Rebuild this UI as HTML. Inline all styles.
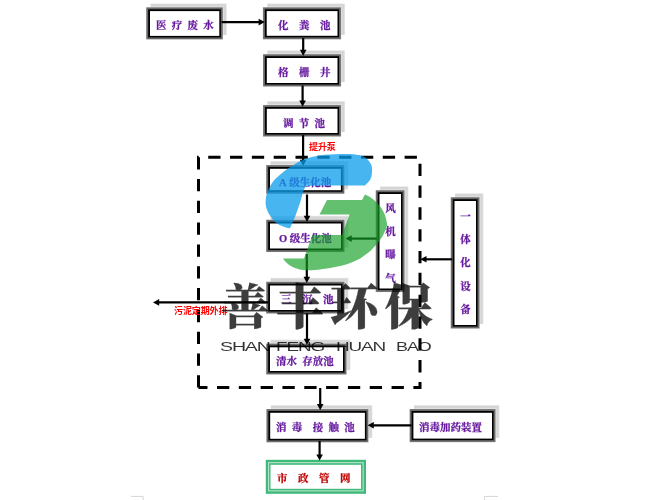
<!DOCTYPE html>
<html lang="zh-CN"><head><meta charset="utf-8"><title>医疗废水处理工艺流程图</title>
<style>
html,body{margin:0;padding:0;background:#fff}
body{width:650px;height:500px;position:relative;overflow:hidden}
svg{position:absolute;left:0;top:0}
.t{position:absolute;white-space:pre;font-family:"Liberation Serif","Noto Serif CJK SC",serif;font-weight:700;-webkit-text-stroke:.25px #66199f;font-size:10.5px;line-height:12px;color:#66199f;margin:0;will-change:transform}
.r{position:absolute;white-space:pre;font-family:"Liberation Sans","Noto Sans CJK SC",sans-serif;font-weight:700;font-size:9px;line-height:10px;color:#f00;letter-spacing:-0.1px;will-change:transform}
.v{position:absolute;font-family:"Liberation Serif","Noto Serif CJK SC",serif;font-weight:700;-webkit-text-stroke:.25px #66199f;font-size:10.5px;line-height:23.2px;color:#66199f;width:11px;text-align:center;will-change:transform}
.wm{position:absolute;white-space:pre;font-family:"Liberation Serif","Noto Serif CJK SC",serif;font-weight:900;-webkit-text-stroke:.3px #000;color:#000;opacity:.76;transform-origin:0 0}
.we{position:absolute;white-space:pre;font-family:"Liberation Sans","Noto Sans CJK SC",sans-serif;font-weight:400;color:#000;opacity:.8;transform-origin:0 0}
</style></head><body>
<svg width="650" height="500" viewBox="0 0 650 500">
<path d="M131 496.4H143.1V500" fill="none" stroke="#d6d6d6" stroke-width="1"/>
<path d="M484.4 500V496.4H498" fill="none" stroke="#d6d6d6" stroke-width="1"/>
<rect x="150.70" y="3.40" width="76.05" height="31.55" fill="#e6e6e6"/>
<rect x="150.70" y="4.10" width="75.35" height="30.85" fill="#d5d5d5"/>
<rect x="150.70" y="6.40" width="73.05" height="28.55" fill="#e2e2e2"/>
<rect x="267.40" y="3.40" width="77.55" height="31.45" fill="#e6e6e6"/>
<rect x="267.40" y="4.10" width="76.85" height="30.75" fill="#d5d5d5"/>
<rect x="267.40" y="6.40" width="74.55" height="28.45" fill="#e2e2e2"/>
<rect x="267.50" y="50.30" width="77.45" height="31.75" fill="#e6e6e6"/>
<rect x="267.50" y="51.00" width="76.75" height="31.05" fill="#d5d5d5"/>
<rect x="267.50" y="53.30" width="74.45" height="28.75" fill="#e2e2e2"/>
<rect x="267.50" y="101.10" width="77.45" height="30.95" fill="#e6e6e6"/>
<rect x="267.50" y="101.80" width="76.75" height="30.25" fill="#d5d5d5"/>
<rect x="267.50" y="104.10" width="74.45" height="27.95" fill="#e2e2e2"/>
<rect x="270.70" y="161.10" width="77.65" height="28.15" fill="#e6e6e6"/>
<rect x="270.70" y="161.80" width="76.95" height="27.45" fill="#d5d5d5"/>
<rect x="270.70" y="164.10" width="74.65" height="25.15" fill="#e2e2e2"/>
<rect x="270.70" y="215.80" width="77.75" height="31.75" fill="#e6e6e6"/>
<rect x="270.70" y="216.50" width="77.05" height="31.05" fill="#d5d5d5"/>
<rect x="270.70" y="218.80" width="74.75" height="28.75" fill="#e2e2e2"/>
<rect x="380.20" y="186.30" width="28.25" height="101.25" fill="#e6e6e6"/>
<rect x="380.20" y="187.00" width="27.55" height="100.55" fill="#d5d5d5"/>
<rect x="380.20" y="189.30" width="25.25" height="98.25" fill="#e2e2e2"/>
<rect x="455.20" y="193.30" width="28.25" height="130.75" fill="#e6e6e6"/>
<rect x="455.20" y="194.00" width="27.55" height="130.05" fill="#d5d5d5"/>
<rect x="455.20" y="196.30" width="25.25" height="127.75" fill="#e2e2e2"/>
<rect x="270.70" y="277.80" width="77.75" height="31.25" fill="#e6e6e6"/>
<rect x="270.70" y="278.50" width="77.05" height="30.55" fill="#d5d5d5"/>
<rect x="270.70" y="280.80" width="74.75" height="28.25" fill="#e2e2e2"/>
<rect x="270.70" y="339.60" width="79.75" height="30.45" fill="#e6e6e6"/>
<rect x="270.70" y="340.30" width="79.05" height="29.75" fill="#d5d5d5"/>
<rect x="270.70" y="342.60" width="76.75" height="27.45" fill="#e2e2e2"/>
<rect x="270.90" y="405.10" width="101.45" height="32.75" fill="#e6e6e6"/>
<rect x="270.90" y="405.80" width="100.75" height="32.05" fill="#d5d5d5"/>
<rect x="270.90" y="408.10" width="98.45" height="29.75" fill="#e2e2e2"/>
<rect x="414.10" y="405.10" width="85.35" height="32.55" fill="#e6e6e6"/>
<rect x="414.10" y="405.80" width="84.65" height="31.85" fill="#d5d5d5"/>
<rect x="414.10" y="408.10" width="82.35" height="29.55" fill="#e2e2e2"/>
<path d="M198.5 387.6V157.3H420V387.6H198.5" fill="none" stroke="#000" stroke-width="3" stroke-dasharray="12.3 9.52"/>
<rect x="146.20" y="7.30" width="76.65" height="32.15" fill="#8c8c8c"/>
<rect x="146.70" y="7.80" width="75.65" height="31.15" fill="#686868"/>
<rect x="148.20" y="9.30" width="72.65" height="28.15" fill="#000"/>
<rect x="150.00" y="11.10" width="69.30" height="24.80" fill="#fff"/>
<rect x="262.90" y="7.30" width="78.15" height="32.05" fill="#8c8c8c"/>
<rect x="263.40" y="7.80" width="77.15" height="31.05" fill="#686868"/>
<rect x="264.90" y="9.30" width="74.15" height="28.05" fill="#000"/>
<rect x="266.70" y="11.10" width="70.80" height="24.70" fill="#fff"/>
<rect x="263.00" y="54.20" width="78.05" height="32.35" fill="#8c8c8c"/>
<rect x="263.50" y="54.70" width="77.05" height="31.35" fill="#686868"/>
<rect x="265.00" y="56.20" width="74.05" height="28.35" fill="#000"/>
<rect x="266.80" y="58.00" width="70.70" height="25.00" fill="#fff"/>
<rect x="263.00" y="105.00" width="78.05" height="31.55" fill="#8c8c8c"/>
<rect x="263.50" y="105.50" width="77.05" height="30.55" fill="#686868"/>
<rect x="265.00" y="107.00" width="74.05" height="27.55" fill="#000"/>
<rect x="266.80" y="108.80" width="70.70" height="24.20" fill="#fff"/>
<rect x="266.20" y="165.00" width="78.25" height="28.75" fill="#8c8c8c"/>
<rect x="266.70" y="165.50" width="77.25" height="27.75" fill="#686868"/>
<rect x="268.20" y="167.00" width="74.25" height="24.75" fill="#000"/>
<rect x="270.00" y="168.80" width="70.90" height="21.40" fill="#fff"/>
<rect x="266.20" y="219.70" width="78.35" height="32.35" fill="#8c8c8c"/>
<rect x="266.70" y="220.20" width="77.35" height="31.35" fill="#686868"/>
<rect x="268.20" y="221.70" width="74.35" height="28.35" fill="#000"/>
<rect x="270.00" y="223.50" width="71.00" height="25.00" fill="#fff"/>
<rect x="375.70" y="190.20" width="28.85" height="101.85" fill="#8c8c8c"/>
<rect x="376.20" y="190.70" width="27.85" height="100.85" fill="#686868"/>
<rect x="377.70" y="192.20" width="24.85" height="97.85" fill="#000"/>
<rect x="379.50" y="194.00" width="21.50" height="94.50" fill="#fff"/>
<rect x="450.70" y="197.20" width="28.85" height="131.35" fill="#8c8c8c"/>
<rect x="451.20" y="197.70" width="27.85" height="130.35" fill="#686868"/>
<rect x="452.70" y="199.20" width="24.85" height="127.35" fill="#000"/>
<rect x="454.50" y="201.00" width="21.50" height="124.00" fill="#fff"/>
<rect x="266.20" y="281.70" width="78.35" height="31.85" fill="#8c8c8c"/>
<rect x="266.70" y="282.20" width="77.35" height="30.85" fill="#686868"/>
<rect x="268.20" y="283.70" width="74.35" height="27.85" fill="#000"/>
<rect x="270.00" y="285.50" width="71.00" height="24.50" fill="#fff"/>
<rect x="266.20" y="343.50" width="80.35" height="31.05" fill="#8c8c8c"/>
<rect x="266.70" y="344.00" width="79.35" height="30.05" fill="#686868"/>
<rect x="268.20" y="345.50" width="76.35" height="27.05" fill="#000"/>
<rect x="270.00" y="347.30" width="73.00" height="23.70" fill="#fff"/>
<rect x="266.40" y="409.00" width="102.05" height="33.35" fill="#8c8c8c"/>
<rect x="266.90" y="409.50" width="101.05" height="32.35" fill="#686868"/>
<rect x="268.40" y="411.00" width="98.05" height="29.35" fill="#000"/>
<rect x="270.20" y="412.80" width="94.70" height="26.00" fill="#fff"/>
<rect x="409.60" y="409.00" width="85.95" height="33.15" fill="#8c8c8c"/>
<rect x="410.10" y="409.50" width="84.95" height="32.15" fill="#686868"/>
<rect x="411.60" y="411.00" width="81.95" height="29.15" fill="#000"/>
<rect x="413.40" y="412.80" width="78.60" height="25.80" fill="#fff"/>
<rect x="265.80" y="459.80" width="100.20" height="34.00" fill="#3fb97a"/>
<rect x="268.00" y="462.10" width="95.70" height="29.30" fill="#b5e5cb"/>
<rect x="269.10" y="463.20" width="93.50" height="27.10" fill="#3fb97a"/>
<rect x="270.50" y="464.80" width="90.50" height="24.00" fill="#fff"/>
<path d="M221.50 22.10L259.60 22.10" stroke="#000" stroke-width="2.2" fill="none"/>
<path d="M264.80 22.10L258.60 25.40L258.60 18.80Z" fill="#000"/>
<path d="M303.20 38.00L303.20 50.80" stroke="#000" stroke-width="2.2" fill="none"/>
<path d="M303.20 56.00L299.90 49.80L306.50 49.80Z" fill="#000"/>
<path d="M302.60 85.50L302.60 101.60" stroke="#000" stroke-width="2.2" fill="none"/>
<path d="M302.60 106.80L299.30 100.60L305.90 100.60Z" fill="#000"/>
<path d="M303.10 135.00L303.10 160.80" stroke="#000" stroke-width="2.2" fill="none"/>
<path d="M303.10 166.00L299.80 159.80L306.40 159.80Z" fill="#000"/>
<path d="M307.00 194.50L307.00 216.80" stroke="#000" stroke-width="2.2" fill="none"/>
<path d="M307.00 222.00L303.70 215.80L310.30 215.80Z" fill="#000"/>
<path d="M306.80 254.00L306.80 277.80" stroke="#000" stroke-width="2.2" fill="none"/>
<path d="M306.80 283.00L303.50 276.80L310.10 276.80Z" fill="#000"/>
<path d="M307.00 313.50L307.00 339.80" stroke="#000" stroke-width="2.2" fill="none"/>
<path d="M307.00 345.00L303.70 338.80L310.30 338.80Z" fill="#000"/>
<path d="M320.20 388.00L320.20 405.10" stroke="#000" stroke-width="2.2" fill="none"/>
<path d="M320.20 410.30L316.90 404.10L323.50 404.10Z" fill="#000"/>
<path d="M319.60 441.00L319.60 455.40" stroke="#000" stroke-width="2.2" fill="none"/>
<path d="M319.60 460.60L316.30 454.40L322.90 454.40Z" fill="#000"/>
<path d="M377.00 238.60L350.70 238.60" stroke="#000" stroke-width="2.2" fill="none"/>
<path d="M345.50 238.60L351.70 235.30L351.70 241.90Z" fill="#000"/>
<path d="M452.00 259.30L425.50 259.30" stroke="#000" stroke-width="2.2" fill="none"/>
<path d="M420.30 259.30L426.50 256.00L426.50 262.60Z" fill="#000"/>
<path d="M411.50 425.30L372.80 425.30" stroke="#000" stroke-width="2.2" fill="none"/>
<path d="M367.60 425.30L373.80 422.00L373.80 428.60Z" fill="#000"/>
<path d="M268.00 302.40L158.20 302.40" stroke="#000" stroke-width="2.2" fill="none"/>
<path d="M153.00 302.40L159.20 299.10L159.20 305.70Z" fill="#000"/>
</svg>
<div class="t" style="left:156.0px;top:19.9px;">医 疗 废 水</div>
<div class="t" style="left:278.0px;top:19.5px;">化  粪  池</div>
<div class="t" style="left:278.0px;top:66.7px;">格  栅  井</div>
<div class="t" style="left:282.8px;top:118.0px;">调 节 池</div>
<div class="t" style="left:279.3px;top:177.2px;">A 级生化池</div>
<div class="t" style="left:279.0px;top:233.0px;">O 级生化池</div>
<div class="t" style="left:280.8px;top:294.1px;">三  沉  池</div>
<div class="t" style="left:276.3px;top:355.8px;">清水 存放池</div>
<div class="t" style="left:275.6px;top:422.0px;">消 毒  接 触 池</div>
<div class="t" style="left:418.6px;top:422.0px;">消毒加药装置</div>
<div class="t" style="left:276.5px;top:473.0px;color:#c00000;-webkit-text-stroke-color:#c00000;">市  政  管  网</div>
<div class="r" style="left:309.0px;top:142.3px;">提升泵</div>
<div class="r" style="left:174.0px;top:305.8px;">污泥定期外排</div>
<div class="v" style="left:385.3px;top:197px">风<br>机<br>曝<br>气</div>
<div class="v" style="left:459.8px;top:204.5px">一<br>体<br>化<br>设<br>备</div>
<svg width="650" height="500" viewBox="0 0 650 500">
<path d="M265.6 201.5C265.9 195.5 267 192 269.4 187.4C272.4 181.9 275.4 178.3 279.4 175.3C285.4 170.3 291.5 165.800 299.5 161.3C307.5 157.4 315.800 155.800 324.8 154.8C332 154.200 339 153.900 345 153.900C351 153.900 356 154.400 360 155.300C364 156.500 366.500 158 368.500 160.500C370.500 163 372 165.500 372 168.500C372.200 171.500 372 174.500 371.300 177C370.800 178.500 370.200 179.800 369.500 180.800L365 185.600L330 185.500L306 185.800C304.800 187.500 303.800 189.700 303 192L300 203L295 217L290 228.200C287 228 284.500 227.300 282 226C279.500 225 277 223.600 275 222C273.500 220.500 272.200 219 271 217C269.500 215 268.300 213 267.500 211C266.200 208 265.600 205 265.600 201.500Z" fill="#0a9ceb" fill-opacity=".75"/>
<path d="M327 200H362L365 194.500C367 195.200 368.500 196 370 197C372.500 198.800 375 200.800 377 203C379.500 205.500 381.500 208 383 211C384.800 214 385.700 217 386.300 220C386.900 222 387.100 223.500 387 225C386.800 227 386 229 385 231C383.500 234.500 382 237.500 380 240C378.500 242 377 244 375 246C372 249.500 369 252.500 365 255C362 257.500 358.500 259.500 355 261C352 262.500 348.500 263.800 345 264.800C342 265.600 338.500 266.400 335 267C332 267.600 328.500 268.300 325 268.800C322 269.300 318.500 269.800 315 270C312 270.300 308.500 270.400 305 270.200C301.500 270 298 269.200 295 268C292.500 267 290 265.700 288 264C286 262.500 284.300 260.700 283 258.500H304L312.500 235H342L349.500 214.500H319.500Z" fill="#10a024" fill-opacity=".66"/>
</svg>
<div class="wm" style="left:221px;top:274.2px;font-size:48px;line-height:68px;letter-spacing:6.7px">善丰环保</div>
<div class="we" style="left:220.0px;top:338.3px;font-size:13.5px;line-height:18px;letter-spacing:-0.8px;transform:scaleX(1.450)">SHAN</div>
<div class="we" style="left:275.6px;top:338.3px;font-size:13.5px;line-height:18px;letter-spacing:-0.8px;transform:scaleX(1.400)">FENG</div>
<div class="we" style="left:335.6px;top:338.3px;font-size:13.5px;line-height:18px;letter-spacing:-0.8px;transform:scaleX(1.400)">HUAN</div>
<div class="we" style="left:395.7px;top:338.3px;font-size:13.5px;line-height:18px;letter-spacing:-0.8px;transform:scaleX(1.330)">BAO</div>
</body></html>
